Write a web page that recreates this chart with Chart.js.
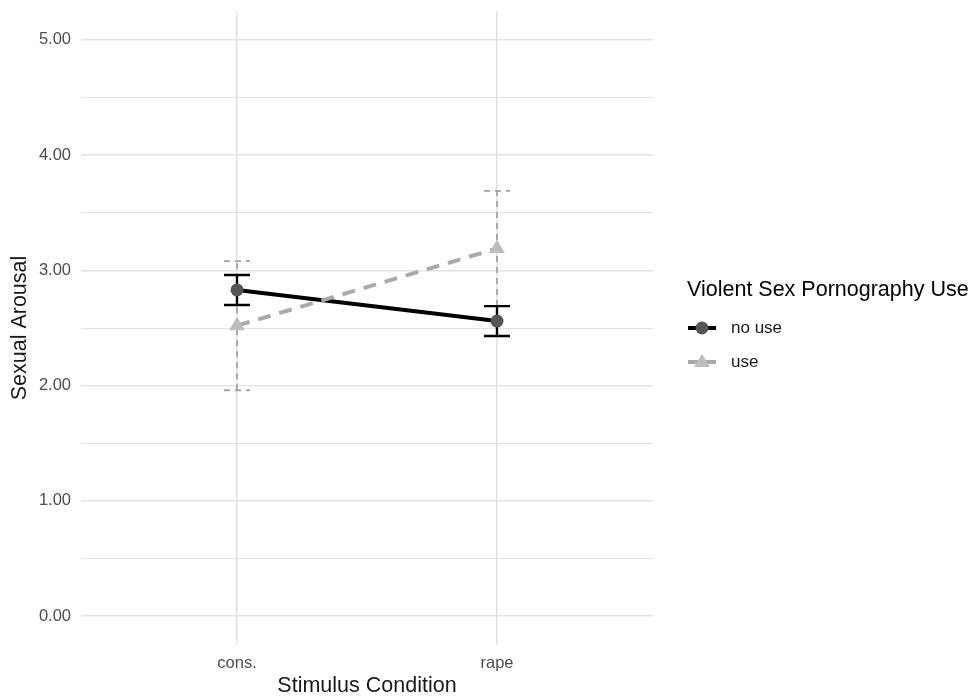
<!DOCTYPE html>
<html>
<head>
<meta charset="utf-8">
<script src="https://cdn.jsdelivr.net/npm/chart.js@4/dist/chart.umd.min.js"></script>
<style>
html,body{margin:0;padding:0;background:#fff;}
#wrap{width:971px;height:698px;position:relative;}
</style>
</head>
<body>
<div id="wrap"><canvas id="c" width="971" height="698"></canvas></div>
<script>
const categories = ['cons.', 'rape'];
const noUseMean  = [2.83, 2.56];
const noUseLower = [2.70, 2.43];
const noUseUpper = [2.96, 2.69];
const useMean    = [2.52, 3.19];
const useLower   = [1.96, 2.69];
const useUpper   = [3.08, 3.69];
const yTicks     = [0, 1, 2, 3, 4, 5];
const seriesNames = ['no use', 'use'];
const legendTitle = 'Violent Sex Pornography Use';
const xTitle = 'Stimulus Condition';
const yTitle = 'Sexual Arousal';

const FONT = '"Liberation Sans", Arial, Helvetica, sans-serif';

function toPts(arr){ return arr.map((v,i)=>({x:i+1, y:v})); }

const errorBarPlugin = {
  id: 'errorBars',
  beforeDatasetsDraw(chart){
    const ctx = chart.ctx, xs = chart.scales.x, ys = chart.scales.y;
    const specs = [
      {lo:useLower, hi:useUpper, color:'#a3a3a3', width:1.8, dash:[6,5]},
      {lo:noUseLower, hi:noUseUpper, color:'#000000', width:2.4, dash:[]}
    ];
    ctx.save();
    specs.forEach(s=>{
      ctx.strokeStyle = s.color; ctx.lineWidth = s.width; ctx.setLineDash(s.dash);
      s.lo.forEach((lo,i)=>{
        const x = xs.getPixelForValue(i+1);
        const y1 = ys.getPixelForValue(lo), y2 = ys.getPixelForValue(s.hi[i]);
        const hw = xs.getPixelForValue(i+1+0.05) - x;
        ctx.beginPath();
        ctx.moveTo(x, y1); ctx.lineTo(x, y2);
        ctx.moveTo(x-hw, y1); ctx.lineTo(x+hw, y1);
        ctx.moveTo(x-hw, y2); ctx.lineTo(x+hw, y2);
        ctx.stroke();
      });
    });
    ctx.restore();
  }
};

const decorPlugin = {
  id: 'decor',
  afterDraw(chart){
    const ctx = chart.ctx, a = chart.chartArea;
    ctx.save();
    ctx.fillStyle = '#1a1a1a';
    ctx.font = '21.5px ' + FONT;
    ctx.textAlign = 'center'; ctx.textBaseline = 'middle';
    ctx.fillText(xTitle, (a.left + a.right)/2, 686);
    ctx.save();
    ctx.translate(20, (a.top + a.bottom)/2);
    ctx.rotate(-Math.PI/2);
    ctx.fillText(yTitle, 0, 0);
    ctx.restore();
    ctx.textAlign = 'left';
    ctx.fillStyle = '#000';
    ctx.font = '21.5px ' + FONT;
    ctx.fillText(legendTitle, 687, 290);
    ctx.font = '17px ' + FONT;
    const items = [
      {y:328, color:'#000', width:4, pt:'circle', ptColor:'#555555'},
      {y:362, color:'#aaaaaa', width:4, pt:'triangle', ptColor:'#bdbdbd'}
    ];
    items.forEach((it, i)=>{
      ctx.strokeStyle = it.color; ctx.lineWidth = it.width;
      ctx.beginPath(); ctx.moveTo(688, it.y); ctx.lineTo(716, it.y); ctx.stroke();
      ctx.fillStyle = it.ptColor;
      ctx.beginPath();
      if (it.pt === 'circle') { ctx.arc(702, it.y, 6.5, 0, Math.PI*2); }
      else { ctx.moveTo(702, it.y-8); ctx.lineTo(710, it.y+5); ctx.lineTo(694, it.y+5); ctx.closePath(); }
      ctx.fill();
      ctx.fillStyle = '#1a1a1a';
      ctx.fillText(seriesNames[i], 731, it.y);
    });
    ctx.restore();
  }
};

new Chart(document.getElementById('c'), {
  type: 'line',
  data: {
    datasets: [
      {
        label: seriesNames[1],
        data: toPts(useMean),
        borderColor: '#aaaaaa',
        borderWidth: 4,
        borderDash: [13, 9],
        pointStyle: 'triangle',
        pointRadius: 9,
        pointBackgroundColor: '#bdbdbd',
        pointBorderColor: '#bdbdbd',
        pointBorderWidth: 0,
        tension: 0
      },
      {
        label: seriesNames[0],
        data: toPts(noUseMean),
        borderColor: '#000000',
        borderWidth: 4,
        pointStyle: 'circle',
        pointRadius: 6.5,
        pointBackgroundColor: '#555555',
        pointBorderColor: '#555555',
        pointBorderWidth: 0,
        tension: 0
      }
    ]
  },
  options: {
    responsive: false,
    animation: false,
    events: [],
    layout: { padding: { top: 11, right: 318, left: 0, bottom: 0 } },
    plugins: { legend: { display: false }, tooltip: { enabled: false } },
    scales: {
      x: {
        type: 'linear',
        min: 0.4, max: 2.6,
        afterBuildTicks(scale){ scale.ticks = categories.map((c,i)=>({value:i+1})); },
        afterFit(scale){ scale.height = 53; scale.paddingLeft = 0; scale.paddingRight = 0; },
        ticks: {
          callback: (v)=> categories[v-1] ?? '',
          color: '#4d4d4d',
          font: { family: FONT, size: 16.5 },
          padding: 9,
          maxRotation: 0
        },
        grid: { color: '#e3e3e3', lineWidth: 1.6, drawTicks: false },
        border: { display: false }
      },
      y: {
        type: 'linear',
        min: -0.25, max: 5.25,
        afterBuildTicks(scale){
          const t = [];
          yTicks.forEach((v,i)=>{ t.push({value:v}); if (i < yTicks.length-1) t.push({value:(v+yTicks[i+1])/2}); });
          scale.ticks = t;
        },
        afterFit(scale){ scale.width = 81; scale.paddingTop = 0; scale.paddingBottom = 0; },
        ticks: {
          callback: (v)=> yTicks.includes(v) ? v.toFixed(2) : '',
          color: '#4d4d4d',
          font: { family: FONT, size: 16.5 },
          padding: 10
        },
        grid: {
          color: '#e3e3e3',
          lineWidth: (c)=> (c.tick && yTicks.includes(c.tick.value)) ? 1.6 : 1,
          drawTicks: false
        },
        border: { display: false }
      }
    }
  },
  plugins: [errorBarPlugin, decorPlugin]
});
</script>
</body>
</html>
